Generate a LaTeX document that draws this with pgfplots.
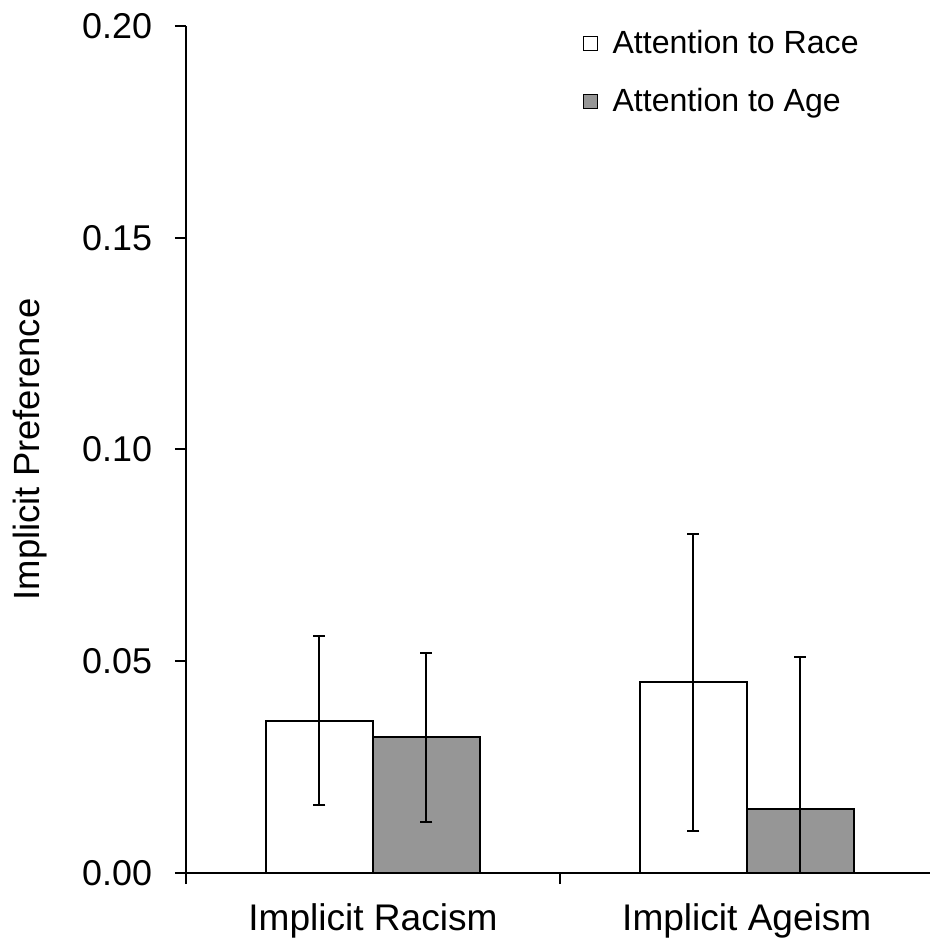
\documentclass[border=0pt]{standalone}
\usepackage{fontspec}
\setmainfont{Liberation Sans}
\usepackage{pgfplots}
\pgfplotsset{compat=1.18}
\definecolor{AgeGray}{HTML}{969696}

\begin{document}
\begin{tikzpicture}
\begin{axis}[
  scale only axis,
  width=372bp, height=423.5bp,
  xmin=-0.5, xmax=1.49,
  ymin=0, ymax=0.2,
  axis lines*=left,
  axis line style={line width=1bp},
  tick align=outside,
  major tick length=5.5bp,
  tick style={line width=1bp,black},
  xtick={-0.5,0.5},
  xticklabels={,},
  extra x ticks={0,1},
  extra x tick labels={Implicit Racism,Implicit Ageism},
  extra x tick style={major tick length=0pt,
    xticklabel style={yshift=-12bp,font=\fontsize{18.6}{21}\selectfont}},
  ytick={0,0.05,0.1,0.15,0.2},
  yticklabel style={xshift=-8bp,/pgf/number format/.cd,fixed,fixed zerofill,precision=2},
  /pgf/number format/assume math mode=true,
  tick label style={font=\fontsize{18}{21}\selectfont},
  label style={font=\fontsize{18.3}{21}\selectfont},
  ylabel={Implicit Preference},
  ylabel style={at={(axis description cs:-0.209,0.5)},anchor=center},
  ybar,
  legend style={at={(0.525,1.0)},anchor=north west,yshift=2bp,draw=none,fill=none,
    font=\fontsize{16.1}{19}\selectfont,row sep=12bp,cells={anchor=west}},
  mybox/.style={legend image code/.code={\draw[##1,line width=0.6bp] (0bp,-3.5bp) rectangle (7bp,3.5bp);
    \path (12bp,0bp);}},
  error bars/error bar style={line width=1bp,black},
  error bars/error mark options={rotate=90,mark size=3bp,line width=1bp,black},
]
\addplot[ybar,bar width=0.286,bar shift=-0.143,fill=white,draw=black,line width=1bp,mybox,
  error bars/.cd,y dir=both,y explicit]
  coordinates {(0,0.036) +- (0,0.020) (1,0.045) +- (0,0.035)};
\addplot[ybar,bar width=0.286,bar shift=0.143,fill=AgeGray,draw=black,line width=1bp,mybox,
  error bars/.cd,y dir=both,y explicit]
  coordinates {(0,0.032) +- (0,0.020) (1,0.015) +- (0,0.036)};
\legend{Attention to Race,Attention to Age}
\end{axis}
\pgfresetboundingbox
\path ([shift={(-93bp,-34bp)}]current axis.south west) rectangle ([shift={(0bp,13bp)}]current axis.north east);
\end{tikzpicture}
\end{document}
